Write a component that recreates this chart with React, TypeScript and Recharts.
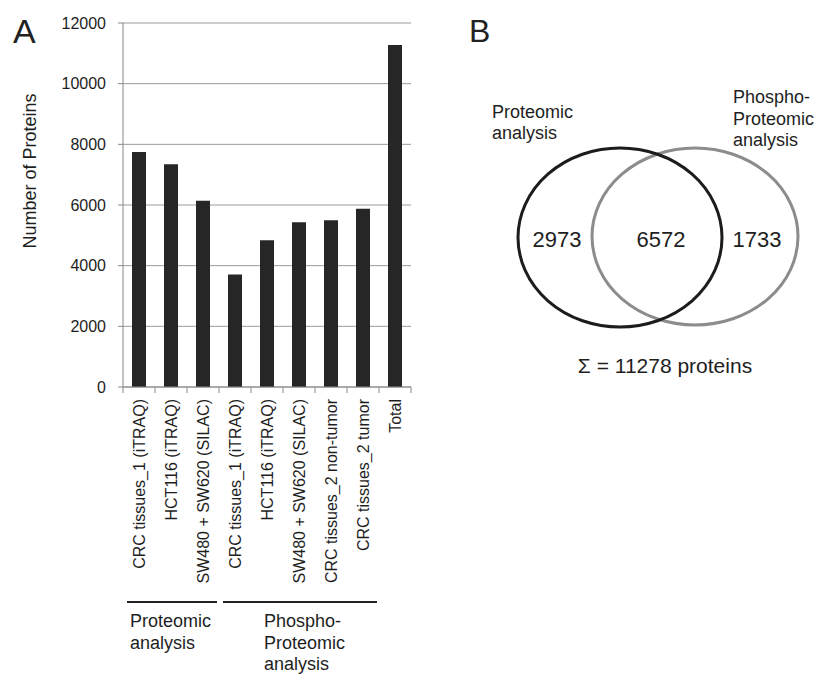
import React from 'react';
import { BarChart, Bar, XAxis, YAxis, CartesianGrid, ScatterChart, Scatter } from 'recharts';

const FONT = '"Liberation Sans", Arial, sans-serif';

// ---- Panel A data ----
const categories = [
  'CRC tissues_1 (iTRAQ)',
  'HCT116 (iTRAQ)',
  'SW480 + SW620 (SILAC)',
  'CRC tissues_1 (iTRAQ)',
  'HCT116 (iTRAQ)',
  'SW480 + SW620 (SILAC)',
  'CRC tissues_2 non-tumor',
  'CRC tissues_2 tumor',
  'Total',
];
const proteinCounts = [7750, 7340, 6140, 3710, 4840, 5430, 5500, 5880, 11278];
const yTicks = [0, 2000, 4000, 6000, 8000, 10000, 12000];
const yLabel = 'Number of Proteins';
const groups = [
  { lines: ['Proteomic', 'analysis'], first: 0, last: 2 },
  { lines: ['Phospho-', 'Proteomic', 'analysis'], first: 3, last: 7 },
];

// ---- Panel B data ----
const vennSets = ['Proteomic analysis', 'Phospho-Proteomic analysis'];
const vennSetLabelLines = [
  ['Proteomic', 'analysis'],
  ['Phospho-', 'Proteomic', 'analysis'],
];
const vennRegionCounts = [2973, 6572, 1733];
const vennTotal = 11278;

const barData = categories.map((c, i) => ({ key: `c${i}`, name: c, value: proteinCounts[i] }));

// layout (not data)
const groupLabelShift = [-42, -36];
const circleLayout = [
  { x: 180, y: 237.5, rx: 102, ry: 89.5, stroke: '#1c1c1c' },
  { x: 255, y: 236.5, rx: 103, ry: 88.5, stroke: '#8c8c8c' },
];
const regionXs = [117, 221, 317];
const vennCircles = vennSets.map((s, i) => ({ name: s, ...circleLayout[i] }));
const vennRegions = vennRegionCounts.map((v, i) => ({ value: v, x: regionXs[i], y: 239 }));

const TEXT = '#1e1e1e';

function CategoryTick(props: any) {
  const { x, y, index } = props;
  const count = props.visibleTicksCount || categories.length;
  const w = typeof props.width === 'number' ? props.width : 288;
  const band = w / count;
  const els: any[] = [];
  els.push(<line key="t" x1={x - band / 2} x2={x - band / 2} y1={y} y2={y + 6} stroke="#888" />);
  if (index === count - 1) {
    els.push(<line key="t2" x1={x + band / 2} x2={x + band / 2} y1={y} y2={y + 6} stroke="#888" />);
  }
  els.push(
    <g key="lbl" transform={`translate(${x},${y + 12}) rotate(-90)`}>
      <text textAnchor="end" dy="0.35em" fontSize={16} fill={TEXT} fontFamily={FONT}>
        {categories[index]}
      </text>
    </g>
  );
  groups.forEach((g, gi) => {
    if (g.first === index) {
      const x1 = x - band / 2 + 4;
      const x2 = x + (g.last - g.first) * band + band / 2 - 2;
      const lx = (x1 + x2) / 2 + groupLabelShift[gi];
      els.push(<line key={`gl${gi}`} x1={x1} x2={x2} y1={y + 215} y2={y + 215} stroke="#222" strokeWidth={2} />);
      els.push(
        <text key={`gt${gi}`} x={lx} y={y + 240} fontSize={18} fill={TEXT} fontFamily={FONT}>
          {g.lines.map((l, li) => (
            <tspan key={li} x={lx} dy={li === 0 ? 0 : 21.5}>
              {l}
            </tspan>
          ))}
        </text>
      );
    }
  });
  return <g>{els}</g>;
}

function YLabel() {
  return (
    <text x={36} y={171} transform="rotate(-90,36,171)" textAnchor="middle" fontSize={18} fill={TEXT} fontFamily={FONT}>
      {yLabel}
    </text>
  );
}

function EllipseShape(props: any) {
  const { cx, cy, payload } = props;
  return <ellipse cx={cx} cy={cy} rx={payload.rx} ry={payload.ry} fill="none" stroke={payload.stroke} strokeWidth={3} />;
}

function RegionLabel(props: any) {
  const { cx, cy, payload } = props;
  return (
    <text x={cx} y={cy} dy="0.35em" textAnchor="middle" fontSize={22} fill={TEXT} fontFamily={FONT}>
      {payload.value}
    </text>
  );
}

export default function App() {
  return (
    <div style={{ position: 'absolute', left: 0, top: 0, width: 819, height: 674, background: '#fff', fontFamily: FONT }}>
      <div style={{ position: 'absolute', left: 0, top: 0 }}>
        <BarChart width={430} height={674} data={barData} margin={{ top: 23, right: 19, left: 0, bottom: 0 }} barSize={14}>
          <CartesianGrid vertical={false} stroke="#9a9a9a" />
          <XAxis
            dataKey="key"
            height={287}
            interval={0}
            tickLine={false}
            tickSize={0}
            tickMargin={0}
            axisLine={{ stroke: '#888' }}
            tick={(p: any) => <CategoryTick {...p} />}
          />
          <YAxis
            width={123}
            domain={[0, 12000]}
            ticks={yTicks}
            interval={0}
            tickSize={5}
            tickMargin={12}
            axisLine={{ stroke: '#888' }}
            tickLine={{ stroke: '#888' }}
            tick={{ fontSize: 16, fill: TEXT, fontFamily: FONT }}
            label={{ content: () => <YLabel /> }}
          />
          <Bar dataKey="value" fill="#262626" isAnimationActive={false} />
        </BarChart>
      </div>
      <div style={{ position: 'absolute', left: 440, top: 0 }}>
        <ScatterChart width={379} height={674} margin={{ top: 0, right: 0, bottom: 0, left: 0 }}>
          <XAxis type="number" dataKey="x" domain={[0, 379]} hide />
          <YAxis type="number" dataKey="y" domain={[0, 674]} reversed hide />
          <Scatter data={[vennCircles[1]]} shape={EllipseShape} isAnimationActive={false} />
          <Scatter data={[vennCircles[0]]} shape={EllipseShape} isAnimationActive={false} />
          <Scatter data={vennRegions} shape={RegionLabel} isAnimationActive={false} />
        </ScatterChart>
      </div>
      <svg width={819} height={674} style={{ position: 'absolute', left: 0, top: 0, pointerEvents: 'none' }}>
        <text x={13} y={43} fontSize={34} fill="#222" fontFamily={FONT}>A</text>
        <text x={469} y={42} fontSize={32} fill="#222" fontFamily={FONT}>B</text>
        <text fontSize={18} fill={TEXT} fontFamily={FONT}>
          {vennSetLabelLines[0].map((l, i) => (
            <tspan key={i} x={492} y={118 + i * 21}>{l}</tspan>
          ))}
        </text>
        <text fontSize={18} fill={TEXT} fontFamily={FONT}>
          {vennSetLabelLines[1].map((l, i) => (
            <tspan key={i} x={733} y={103 + i * 21.5}>{l}</tspan>
          ))}
        </text>
        <text x={665} y={373} textAnchor="middle" fontSize={21} fill={TEXT} fontFamily={FONT}>
          {`Σ = ${vennTotal} proteins`}
        </text>
      </svg>
    </div>
  );
}
